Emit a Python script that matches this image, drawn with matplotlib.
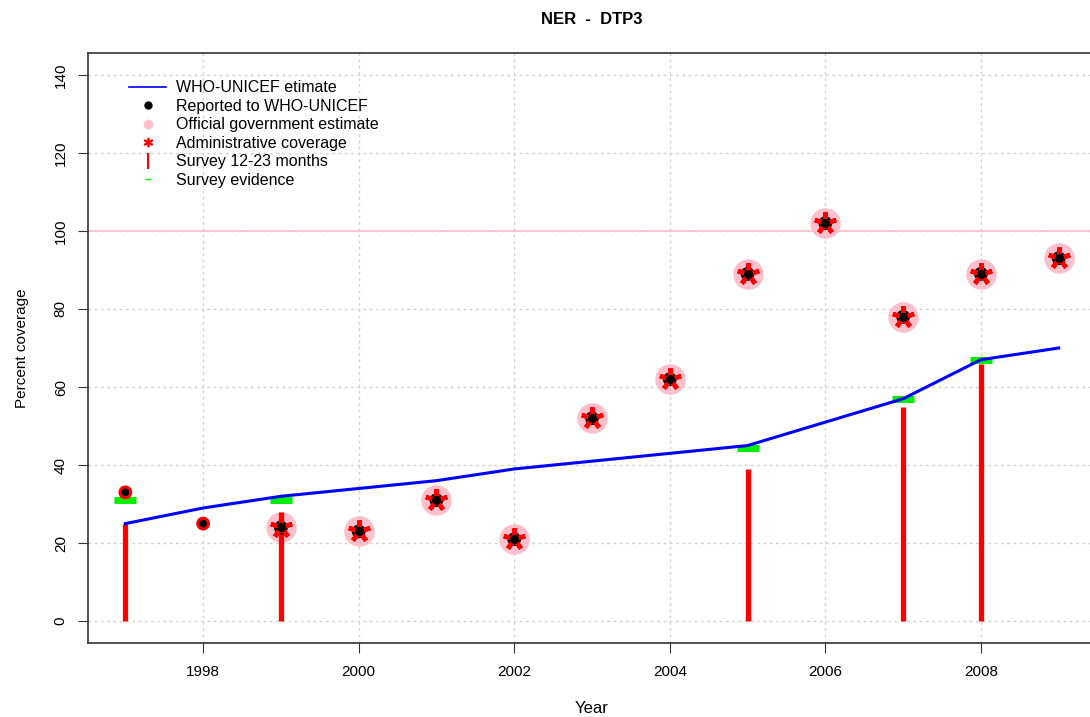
import matplotlib
matplotlib.use("Agg")
import matplotlib.pyplot as plt
from matplotlib.lines import Line2D

plt.rcParams['font.family'] = ['Liberation Sans', 'DejaVu Sans']

years = [1997, 1998, 1999, 2000, 2001, 2002, 2003, 2004, 2005, 2006, 2007, 2008, 2009]
who_unicef = [25, 29, 32, 34, 36, 39, 41, 43, 45, 51, 57, 67, 70]
reported = [33, 25, 24, 23, 31, 21, 52, 62, 89, 102, 78, 89, 93]
official_years = [1999, 2000, 2001, 2002, 2003, 2004, 2005, 2006, 2007, 2008, 2009]
official = [24, 23, 31, 21, 52, 62, 89, 102, 78, 89, 93]
admin_years = [1999, 2000, 2001, 2002, 2003, 2004, 2005, 2006, 2007, 2008, 2009]
admin = [24, 23, 31, 21, 52, 62, 89, 102, 78, 89, 93]
survey_years = [1997, 1999, 2005, 2007, 2008]
survey_12_23 = [25, 28, 39, 55, 66]
evidence_years = [1997, 1999, 2005, 2007, 2008]
survey_evidence = [31, 31, 44.5, 57, 67]

fig = plt.figure(figsize=(10.90, 7.17), dpi=100)
ax = fig.add_axes([88/1090, 74/717, (1096-88)/1090, (643-53)/717])

ax.set_xlim(1996.52, 2009.48)
ax.set_ylim(-5.6, 145.6)
ax.set_xticks([1998, 2000, 2002, 2004, 2006, 2008])
ax.set_yticks([0, 20, 40, 60, 80, 100, 120, 140])
ax.grid(True, color='#d3d3d3', linestyle=(0, (2, 2.5)), linewidth=1.0)
ax.set_axisbelow(True)
ax.tick_params(axis='y', labelrotation=90, length=7.5, labelsize=11, pad=7, color='#333333')
ax.tick_params(axis='x', length=7.5, labelsize=11, pad=8, color='#333333')
for lab in ax.get_yticklabels():
    lab.set_va('center')
for sp in ax.spines.values():
    sp.set_color('#333333')
    sp.set_linewidth(1.2)

ax.axhline(100, color='#ffc0cb', linewidth=1.2, zorder=1)

# official
ax.plot(official_years, official, linestyle='none', marker='o', markersize=22,
        color='#ffc0cb', markeredgewidth=0, zorder=2)
# survey 12-23 months
ax.vlines(survey_years, 0, survey_12_23, colors='red', linewidth=3.8, zorder=3)
# survey evidence
ax.plot(evidence_years, survey_evidence, linestyle='none', marker='_', markersize=16,
        markeredgewidth=5, color='#00ee00', zorder=3)
# WHO-UNICEF estimate
ax.plot(years, who_unicef, color='blue', linewidth=2.2, zorder=4)
# reported
edge = ['black' if y in official_years else 'red' for y in years]
ax.scatter(years, reported, s=60, c='black', edgecolors=edge, linewidths=2.2, zorder=6)
# admin
ax.plot(admin_years, admin, linestyle='none', marker=(5, 2, 0), markersize=16,
        markeredgewidth=3.2, color='red', zorder=7)
ax.plot(admin_years, admin, linestyle='none', marker='o', markersize=5.5,
        color='black', zorder=8)

ax.set_title('NER  -  DTP3', fontsize=12, fontweight='bold', pad=21)
ax.set_xlabel('Year', fontsize=12, labelpad=16.5)
ax.set_ylabel('Percent coverage', fontsize=11, labelpad=18)

handles = [
    Line2D([], [], color='blue', linewidth=1.2),
    Line2D([], [], linestyle='none', marker='o', color='black', markersize=5),
    Line2D([], [], linestyle='none', marker='o', color='#ffc0cb', markersize=6),
    Line2D([], [], linestyle='none', marker='$*$', color='red', markersize=6),
    Line2D([], [], linestyle='none', marker='|', color='red', markersize=12, markeredgewidth=1.5),
    Line2D([], [], linestyle='none', marker='_', color='#00ee00', markersize=4, markeredgewidth=1),
]
labels = ['WHO-UNICEF etimate', 'Reported to WHO-UNICEF', 'Official government estimate',
          'Administrative coverage', 'Survey 12-23 months', 'Survey evidence']
leg = ax.legend(handles, labels, loc='upper left', bbox_to_anchor=(0.041, 0.954), frameon=False,
                fontsize=11.5, handlelength=2.3, handletextpad=0.6, labelspacing=0.22,
                borderaxespad=0, borderpad=0)

fig.savefig('out.png', dpi=100)
